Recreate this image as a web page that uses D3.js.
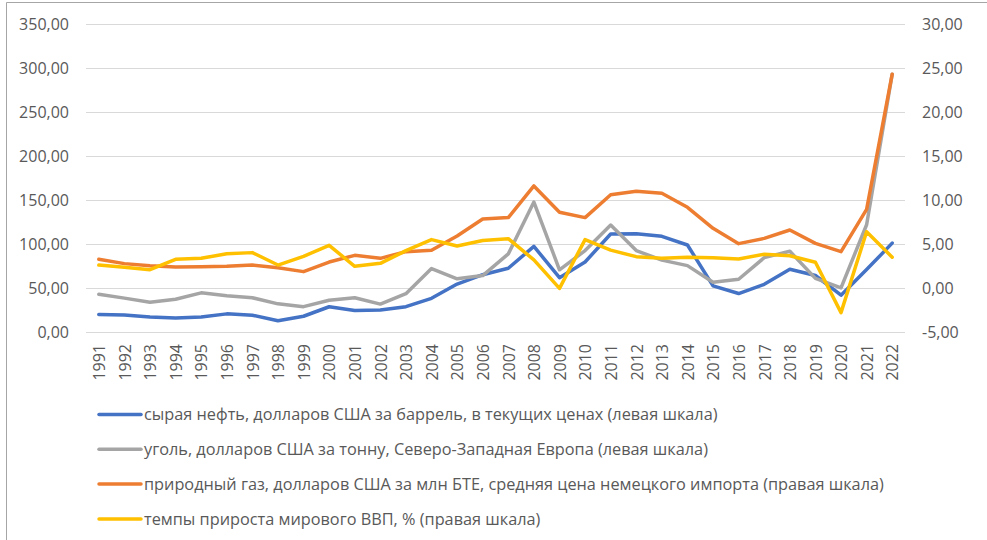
<!DOCTYPE html>
<html>
<head>
<meta charset="utf-8">
<script src="https://cdn.jsdelivr.net/npm/d3@7.9.0/dist/d3.min.js"></script>
<style>
  body { margin: 0; background: #fff; }
  svg { display: block; font-family: "Open Sans", "Noto Sans", sans-serif; }
</style>
</head>
<body>
<svg id="chart" width="987" height="540"></svg>
<script>
// categories
const years = ['1991', '1992', '1993', '1994', '1995', '1996', '1997', '1998', '1999', '2000',
  '2001', '2002', '2003', '2004', '2005', '2006', '2007', '2008', '2009', '2010',
  '2011', '2012', '2013', '2014', '2015', '2016', '2017', '2018', '2019', '2020',
  '2021', '2022'];

// left scale series
const oil = [20.0, 19.3, 17.0, 15.8, 17.0, 20.6, 19.1, 12.7, 17.9, 28.7, 24.5, 25.0, 28.8, 38.3,
  54.5, 65.1, 72.4, 97.3, 61.7, 79.6, 111.3, 111.7, 108.7, 98.9, 52.4, 43.7, 54.2, 71.3, 64.2,
  41.8, 70.9, 101.0];
const coal = [42.8, 38.5, 33.7, 37.2, 44.5, 41.3, 38.9, 32.0, 28.8, 36.0, 39.0, 31.7, 43.6, 72.1,
  60.5, 64.1, 88.8, 147.7, 70.7, 92.5, 121.5, 92.5, 81.7, 75.4, 56.6, 59.9, 84.5, 91.8, 60.9,
  50.2, 121.9, 293.0];

// right scale series
const gas = [3.26, 2.77, 2.54, 2.39, 2.42, 2.46, 2.61, 2.31, 1.86, 2.95, 3.71, 3.37, 4.13, 4.3,
  5.9, 7.84, 8.0, 11.6, 8.6, 8.0, 10.6, 11.0, 10.76, 9.17, 6.78, 5.04, 5.64, 6.59, 5.07, 4.13,
  8.94, 24.3];
const gdp = [2.61, 2.35, 2.08, 3.26, 3.37, 3.9, 4.02, 2.61, 3.6, 4.85, 2.46, 2.8, 4.24, 5.5,
  4.77, 5.4, 5.6, 3.2, -0.04, 5.5, 4.3, 3.56, 3.37, 3.49, 3.45, 3.3, 3.83, 3.67, 2.92, -2.8,
  6.4, 3.5];

const leftTicks = [0, 50, 100, 150, 200, 250, 300, 350];
const rightTicks = [-5, 0, 5, 10, 15, 20, 25, 30];

const legendLabels = [
  'сырая нефть, долларов США за баррель, в текущих ценах (левая шкала)',
  'уголь, долларов США за тонну, Северо-Западная Европа (левая шкала)',
  'природный газ, долларов США за млн БТЕ, средняя цена немецкого импорта (правая шкала)',
  'темпы прироста мирового ВВП, % (правая шкала)'
];

const colors = ['#4472c4', '#a5a5a5', '#ed7d31', '#ffc000'];
const textColor = '#595959';

const svg = d3.select('#chart');

// outer frame (top and left only, the rest is cropped)
svg.append('path')
  .attr('d', 'M6.5,540V2.5H987')
  .attr('fill', 'none')
  .attr('stroke', '#a6a6a6')
  .attr('stroke-width', 1);

let x = d3.scalePoint().domain(years).range([86, 905]).padding(0.5);
let yL = d3.scaleLinear().domain([0, 350]).range([332, 24]);
let yR = d3.scaleLinear().domain([-5, 30]).range([332, 24]);

let fmt = d3.formatLocale({ decimal: ',', thousands: ' ', grouping: [3], currency: ['', ''], minus: '-' }).format('.2f');

// gridlines
svg.append('g')
  .selectAll('line')
  .data(leftTicks)
  .join('line')
  .attr('x1', 86).attr('x2', 905)
  .attr('y1', (d) => Math.round(yL(d)) + 0.5)
  .attr('y2', (d) => Math.round(yL(d)) + 0.5)
  .attr('stroke', '#d9d9d9')
  .attr('stroke-width', 1);

// left axis
let leftAxis = svg.append('g')
  .attr('transform', 'translate(86,0)')
  .call(d3.axisLeft(yL).tickValues(leftTicks).tickSize(0).tickPadding(17).tickFormat(fmt));

// right axis
let rightAxis = svg.append('g')
  .attr('transform', 'translate(905,0)')
  .call(d3.axisRight(yR).tickValues(rightTicks).tickSize(0).tickPadding(17).tickFormat(fmt));

// bottom axis, rotated year labels
let bottomAxis = svg.append('g')
  .attr('transform', 'translate(0,332)')
  .call(d3.axisBottom(x).tickSize(0).tickPadding(0));

bottomAxis.selectAll('text')
  .attr('transform', 'rotate(-90)')
  .attr('text-anchor', 'end')
  .attr('x', -12)
  .attr('y', 0)
  .attr('dy', '0.36em');

[leftAxis, rightAxis, bottomAxis].forEach((g) => {
  g.select('.domain').remove();
  g.selectAll('text')
    .attr('fill', textColor)
    .style('font-size', '16px')
    .style('font-family', '"Open Sans", "Noto Sans", sans-serif');
});

// lines
let lineL = d3.line().x((d, i) => x(years[i])).y((d) => yL(d));
let lineR = d3.line().x((d, i) => x(years[i])).y((d) => yR(d));

let series = [
  { values: oil, gen: lineL },
  { values: coal, gen: lineL },
  { values: gas, gen: lineR },
  { values: gdp, gen: lineR }
];

series.forEach((s, idx) => {
  svg.append('path')
    .attr('d', s.gen(s.values))
    .attr('fill', 'none')
    .attr('stroke', colors[idx])
    .attr('stroke-width', 3.5)
    .attr('stroke-linejoin', 'round')
    .attr('stroke-linecap', 'round');
});

// legend
let legend = svg.append('g');
legendLabels.forEach((label, idx) => {
  let yPos = 414.5 + idx * 34.8;
  legend.append('line')
    .attr('x1', 99).attr('x2', 141)
    .attr('y1', yPos).attr('y2', yPos)
    .attr('stroke', colors[idx])
    .attr('stroke-width', 3.5)
    .attr('stroke-linecap', 'round');
  legend.append('text')
    .attr('x', 144)
    .attr('y', yPos)
    .attr('dy', '0.35em')
    .attr('fill', textColor)
    .style('font-size', '16.3px')
    .text(label);
});
</script>
</body>
</html>
